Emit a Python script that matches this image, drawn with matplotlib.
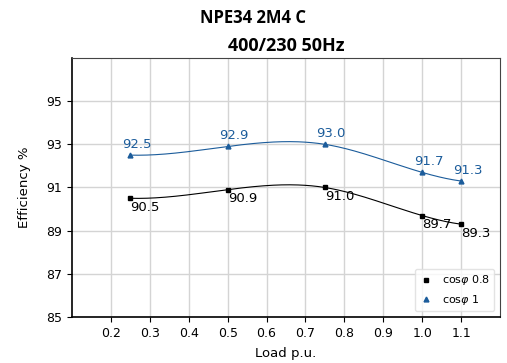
import numpy as np
import matplotlib
matplotlib.use("Agg")
from matplotlib import pyplot as plt

# efficiency vs load at the two power factors
load = [0.25, 0.5, 0.75, 1.0, 1.1]
eff_pf08 = [90.5, 90.9, 91.0, 89.7, 89.3]
eff_pf1 = [92.5, 92.9, 93.0, 91.7, 91.3]
xticks = [0.2, 0.3, 0.4, 0.5, 0.6, 0.7, 0.8, 0.9, 1.0, 1.1]
yticks = [85, 87, 89, 91, 93, 95]

BLUE = "#1b5c9b"


def spline(x, y, n=200):
    # not-a-knot cubic spline through the measured points
    x = np.asarray(x, float)
    y = np.asarray(y, float)
    m = len(x)
    h = np.diff(x)
    A = np.zeros((m, m))
    b = np.zeros(m)
    A[0, 0], A[0, 1], A[0, 2] = h[1], -(h[0] + h[1]), h[0]
    A[-1, -3], A[-1, -2], A[-1, -1] = h[-1], -(h[-2] + h[-1]), h[-2]
    for i in range(1, m - 1):
        A[i, i - 1] = h[i - 1]
        A[i, i] = 2 * (h[i - 1] + h[i])
        A[i, i + 1] = h[i]
        b[i] = 3 * ((y[i + 1] - y[i]) / h[i] - (y[i] - y[i - 1]) / h[i - 1])
    c = np.linalg.solve(A, b)
    xs = np.linspace(x[0], x[-1], n)
    ys = np.empty_like(xs)
    for k, xv in enumerate(xs):
        i = min(np.searchsorted(x, xv, side="right") - 1, m - 2)
        d = xv - x[i]
        bi = (y[i + 1] - y[i]) / h[i] - h[i] * (2 * c[i] + c[i + 1]) / 3
        di = (c[i + 1] - c[i]) / (3 * h[i])
        ys[k] = y[i] + bi * d + c[i] * d ** 2 + di * d ** 3
    return xs, ys


fig = plt.figure(figsize=(5.07, 3.63), dpi=100)
ax = fig.add_axes([72 / 507, 1 - 317 / 363, 428 / 507, 259 / 363])

xs, ys = spline(load, eff_pf08)
ax.plot(xs, ys, color="black", lw=0.8)
ax.plot(load, eff_pf08, "s", color="black", ms=3.5, label="cos$\\varphi$ 0.8")
xs, ys = spline(load, eff_pf1)
ax.plot(xs, ys, color=BLUE, lw=0.8)
ax.plot(load, eff_pf1, "^", color=BLUE, ms=3.5, label="cos$\\varphi$ 1")

for x, v in zip(load, eff_pf08):
    ax.annotate("%.1f" % v, (x, v), xytext=(0, -2), textcoords="offset points",
                ha="left", va="top", fontsize=9.5, color="black")
for x, v in zip(load, eff_pf1):
    ax.annotate("%.1f" % v, (x, v), xytext=(-6, 3), textcoords="offset points",
                ha="left", va="bottom", fontsize=9.5, color=BLUE)

ax.set_xlim(0.1, 1.2)
ax.set_ylim(85, 97)
ax.set_xticks(xticks)
ax.set_yticks(yticks)
ax.tick_params(labelsize=9)
ax.grid(True, color="#d4d4d4", lw=1)
ax.set_axisbelow(True)
for s in ["left", "bottom"]:
    ax.spines[s].set_color("black")
    ax.spines[s].set_linewidth(1.2)
for s in ["top", "right"]:
    ax.spines[s].set_color("#444444")

ax.set_xlabel("Load p.u.", fontsize=9.5, labelpad=5)
ax.set_ylabel("Efficiency %", fontsize=9.5, labelpad=11)
ax.set_title("400/230 50Hz", fontsize=13, fontweight="bold", family="Open Sans", pad=5)
fig.suptitle("NPE34 2M4 C", fontsize=12, fontweight="bold", family="Open Sans", y=0.975)

ax.legend(loc="lower right", fontsize=8, handlelength=1.2, framealpha=0.8,
          edgecolor="#dddddd", borderaxespad=0.5)

fig.savefig("out.png", dpi=100)
